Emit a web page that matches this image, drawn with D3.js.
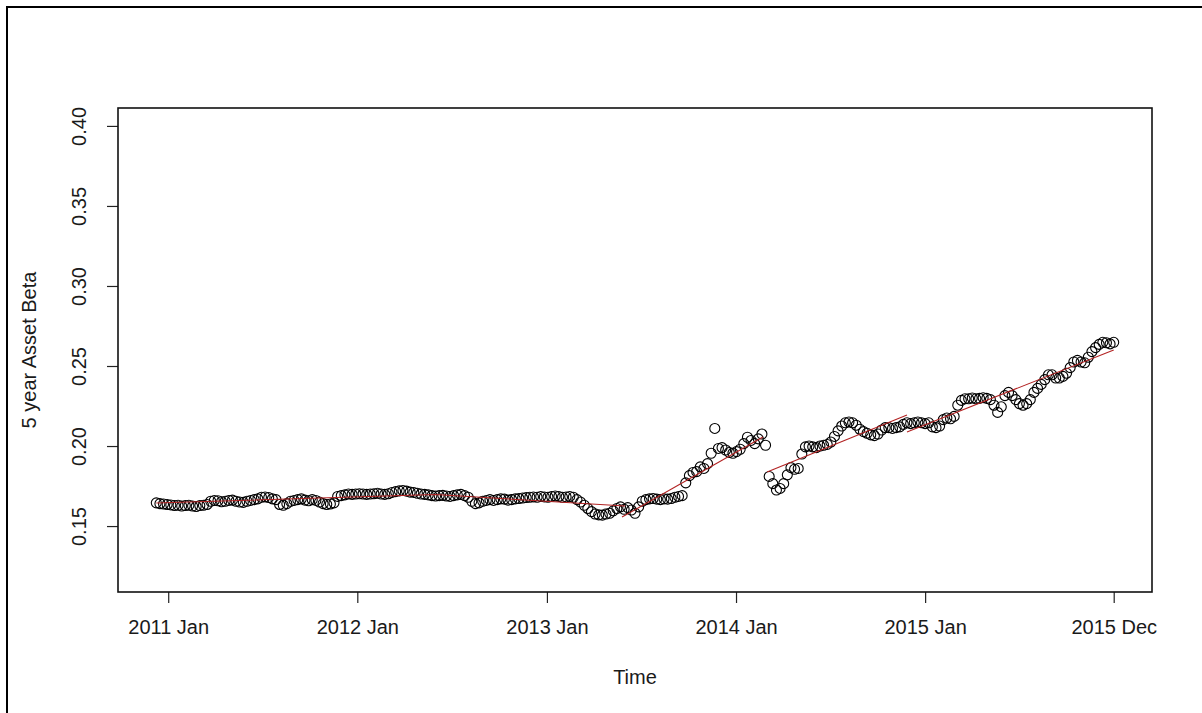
<!DOCTYPE html>
<html>
<head>
<meta charset="utf-8">
<script src="https://cdn.jsdelivr.net/npm/d3@7"></script>
<style>
  html, body { margin: 0; padding: 0; background: #ffffff; }
  svg { display: block; }
  text { font-family: "Liberation Sans", Arial, sans-serif; fill: #1a1a1a; }
</style>
</head>
<body>
<svg id="chart" width="1202" height="713"></svg>
<script>
// Weekly observations of the rolling 5-year asset beta
const firstObservation = "2010-12-09";
const betaValues = [
  0.1645, 0.1640, 0.1638, 0.1635,
  0.1632, 0.1628, 0.1630, 0.1625, 0.1628, 0.1630, 0.1625, 0.1622, 0.1628, 0.1630, 0.1635,
  0.1655, 0.1660, 0.1658, 0.1652, 0.1655, 0.1660, 0.1662, 0.1655, 0.1650, 0.1648, 0.1655, 0.1660, 0.1665, 0.1670,
  0.1680, 0.1682, 0.1678, 0.1670, 0.1665,
  0.1635, 0.1630, 0.1640,
  0.1655, 0.1660, 0.1665, 0.1670, 0.1662, 0.1658, 0.1665, 0.1660, 0.1650,
  0.1640, 0.1635, 0.1638, 0.1645,
  0.1685, 0.1690, 0.1695, 0.1700, 0.1698, 0.1700, 0.1702, 0.1700, 0.1698, 0.1700, 0.1702, 0.1705, 0.1700, 0.1698, 0.1702, 0.1710,
  0.1715, 0.1720, 0.1722, 0.1718, 0.1712, 0.1710,
  0.1705, 0.1700, 0.1698, 0.1695, 0.1690, 0.1688, 0.1690, 0.1692, 0.1688, 0.1685, 0.1690, 0.1695, 0.1698, 0.1690, 0.1680,
  0.1655, 0.1640, 0.1645,
  0.1655, 0.1660, 0.1665, 0.1660, 0.1665, 0.1670, 0.1668, 0.1662, 0.1665, 0.1670, 0.1672,
  0.1675, 0.1678, 0.1680, 0.1682, 0.1680, 0.1685, 0.1682, 0.1680, 0.1685, 0.1688, 0.1685, 0.1680, 0.1682, 0.1685, 0.1680,
  0.1665, 0.1650, 0.1630, 0.1610, 0.1590,
  0.1575, 0.1570, 0.1568, 0.1575, 0.1580,
  0.1595, 0.1610, 0.1620, 0.1605, 0.1615, 0.1600,
  0.1580, 0.1620,
  0.1655, 0.1665, 0.1670, 0.1672, 0.1668, 0.1665, 0.1670, 0.1668, 0.1672, 0.1680, 0.1685,
  0.1690, 0.1770, 0.1815, 0.1835,
  0.1840, 0.1870, 0.1860, 0.1890, 0.1955, 0.2110, 0.1985, 0.1990, 0.1975, 0.1960,
  0.1955, 0.1965, 0.1980, 0.2015, 0.2055, 0.2035, 0.2015, 0.2045, 0.2075, 0.2005,
  0.1810, 0.1765, 0.1725, 0.1735, 0.1765, 0.1820, 0.1865, 0.1855, 0.1860, 0.1950,
  0.1995, 0.2000, 0.1995, 0.1990, 0.2000, 0.2005, 0.2010, 0.2025, 0.2060, 0.2095,
  0.2125, 0.2145, 0.2150, 0.2145, 0.2130, 0.2105, 0.2090, 0.2080, 0.2070, 0.2065,
  0.2075, 0.2100, 0.2115, 0.2115, 0.2110, 0.2115, 0.2120, 0.2135, 0.2145, 0.2140,
  0.2145, 0.2150, 0.2145, 0.2140, 0.2145, 0.2120, 0.2115, 0.2125, 0.2165, 0.2175,
  0.2170, 0.2185, 0.2255, 0.2285, 0.2295, 0.2295, 0.2300, 0.2295, 0.2298, 0.2302,
  0.2298, 0.2290, 0.2255, 0.2210, 0.2245, 0.2315, 0.2335, 0.2315, 0.2290, 0.2265,
  0.2255, 0.2265, 0.2290, 0.2335, 0.2360, 0.2385, 0.2415, 0.2445, 0.2445, 0.2425,
  0.2425, 0.2435, 0.2455, 0.2490, 0.2525, 0.2535, 0.2525, 0.2520, 0.2555, 0.2590,
  0.2615, 0.2635, 0.2648, 0.2645, 0.2638, 0.2648
];

// Fitted trend pieces: [date, beta] vertices for each piece
const trendSegments = [
  [["2010-12-09", 0.1644], ["2012-05-30", 0.1697], ["2013-06-01", 0.1625]],
  [["2013-05-26", 0.1556], ["2014-02-22", 0.2056]],
  [["2014-03-02", 0.1838], ["2014-11-27", 0.2194]],
  [["2014-11-27", 0.2088], ["2015-12-31", 0.2600]]
];

const xTickDates = ["2011-01-01", "2012-01-01", "2013-01-01", "2014-01-01", "2015-01-01", "2015-12-31"];
const yTickValues = [0.15, 0.20, 0.25, 0.30, 0.35, 0.40];
const yLimits = [0.12, 0.40];

const plot = { left: 118, right: 1152, top: 108, bottom: 592 };
const svg = d3.select("#chart");
const parse = d3.utcParse("%Y-%m-%d");

const start = parse(firstObservation);
const points = betaValues.map((v, i) => ({ date: d3.utcDay.offset(start, 7 * i), value: v }));

// Axis ranges padded by 4% on each side
const [d0, d1] = d3.extent(points, d => d.date);
const xPad = (d1 - d0) * 0.04;
const x = d3.scaleUtc()
  .domain([new Date(+d0 - xPad), new Date(+d1 + xPad)])
  .range([plot.left, plot.right]);

const yPad = (yLimits[1] - yLimits[0]) * 0.04;
const y = d3.scaleLinear()
  .domain([yLimits[0] - yPad, yLimits[1] + yPad])
  .range([plot.bottom, plot.top]);

// Outer frame
svg.append("path")
  .attr("d", "M7,713V7H1202")
  .attr("fill", "none")
  .attr("stroke", "#000")
  .attr("stroke-width", 2);

// Points
svg.append("g")
  .selectAll("circle")
  .data(points)
  .join("circle")
  .attr("cx", d => x(d.date))
  .attr("cy", d => y(d.value))
  .attr("r", 5)
  .attr("fill", "none")
  .attr("stroke", "#000")
  .attr("stroke-width", 1.1);

// Trend lines
const trendLine = d3.line()
  .x(d => x(parse(d[0])))
  .y(d => y(d[1]));
svg.append("g")
  .selectAll("path")
  .data(trendSegments)
  .join("path")
  .attr("d", trendLine)
  .attr("fill", "none")
  .attr("stroke", "#b22222")
  .attr("stroke-width", 1.1);

// Bottom axis
const xAxis = d3.axisBottom(x)
  .tickValues(xTickDates.map(parse))
  .tickFormat(d3.utcFormat("%Y %b"))
  .tickSize(11)
  .tickPadding(17);
const gx = svg.append("g")
  .attr("transform", `translate(0,${plot.bottom})`)
  .call(xAxis);
gx.select(".domain").remove();
gx.selectAll(".tick line").attr("stroke", "#222").attr("stroke-width", 1.2);
gx.selectAll(".tick text")
  .attr("font-family", "Liberation Sans, Arial, sans-serif")
  .attr("font-size", 20)
  .attr("fill", "#1a1a1a");

// Left axis with labels parallel to the axis
const yAxis = d3.axisLeft(y)
  .tickValues(yTickValues)
  .tickFormat(d3.format(".2f"))
  .tickSize(11);
const gy = svg.append("g")
  .attr("transform", `translate(${plot.left},0)`)
  .call(yAxis);
gy.select(".domain").remove();
gy.selectAll(".tick line").attr("stroke", "#222").attr("stroke-width", 1.2);
gy.selectAll(".tick text")
  .attr("x", null)
  .attr("dy", null)
  .attr("text-anchor", "middle")
  .attr("transform", `translate(${86 - plot.left},0) rotate(-90)`)
  .attr("font-family", "Liberation Sans, Arial, sans-serif")
  .attr("font-size", 20)
  .attr("fill", "#1a1a1a");

// Plot box
svg.append("rect")
  .attr("x", plot.left)
  .attr("y", plot.top)
  .attr("width", plot.right - plot.left)
  .attr("height", plot.bottom - plot.top)
  .attr("fill", "none")
  .attr("stroke", "#111")
  .attr("stroke-width", 1.6);

// Axis titles
svg.append("text")
  .attr("x", (plot.left + plot.right) / 2)
  .attr("y", 684)
  .attr("text-anchor", "middle")
  .attr("font-size", 20)
  .text("Time");

svg.append("text")
  .attr("transform", `translate(36,${(plot.top + plot.bottom) / 2}) rotate(-90)`)
  .attr("text-anchor", "middle")
  .attr("font-size", 20)
  .text("5 year Asset Beta");
</script>
</body>
</html>
